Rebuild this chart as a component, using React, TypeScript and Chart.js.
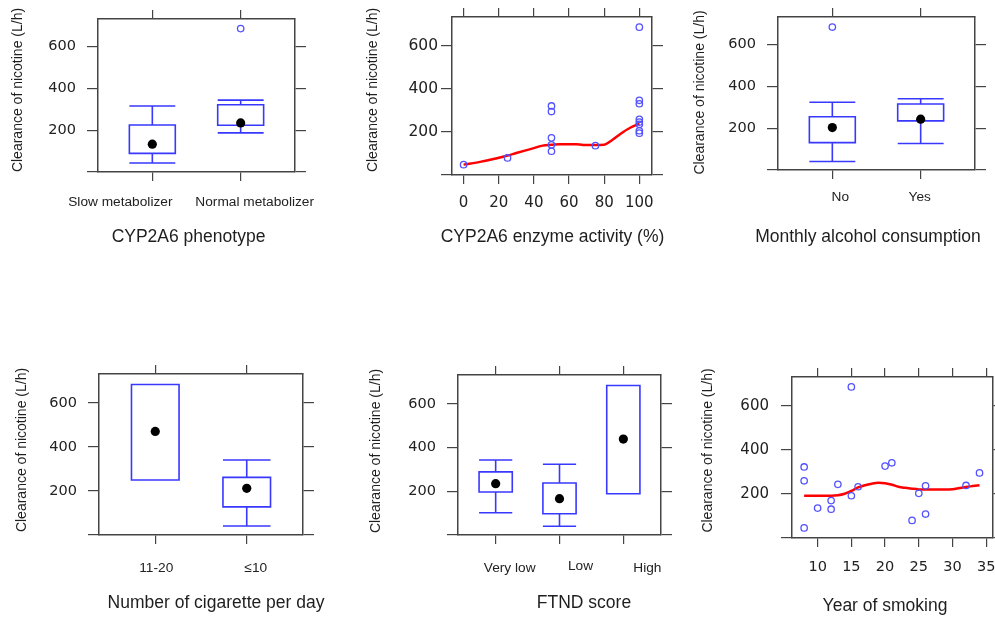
import React, { useEffect, useRef } from 'react';
import { Chart, registerables } from 'chart.js';

Chart.register(...registerables);

// ---------- shared axis values ----------
const yTicks = [0, 200, 400, 600];
const yMin = 0;
const yMax = 732;
const yTitleText = 'Clearance of nicotine (L/h)';

// ---------- Panel 1: CYP2A6 phenotype ----------
const phenoCats = ['Slow metabolizer', 'Normal metabolizer'];
const phenoLow = [43, 187];
const phenoQ1 = [89, 224];
const phenoMed = [133, 235];
const phenoQ3 = [225, 322];
const phenoHigh = [316, 344];
const phenoOutX = [2];
const phenoOutY = [686];

// ---------- Panel 2: CYP2A6 enzyme activity ----------
const actX = [0, 25, 50, 50, 50, 50, 50, 75, 100, 100, 100, 100, 100, 100, 100, 100];
const actY = [48, 79, 320, 294, 172, 140, 110, 136, 685, 346, 330, 258, 245, 235, 205, 194];
const actSmoothX = [0, 10, 19, 25, 30, 38, 45, 50, 55, 64, 68, 74, 80, 84, 89, 95, 100];
const actSmoothY = [48, 62, 78, 90, 102, 120, 136, 140, 143, 143, 139, 139, 140, 159, 189, 220, 238];
const actTicks = [0, 20, 40, 60, 80, 100];

// ---------- Panel 3: Monthly alcohol consumption ----------
const alcCats = ['No', 'Yes'];
const alcLow = [41, 127];
const alcQ1 = [131, 235];
const alcMed = [203, 243];
const alcQ3 = [255, 316];
const alcHigh = [324, 341];
const alcOutX = [1];
const alcOutY = [684];

// ---------- Panel 4: Number of cigarette per day ----------
const cigCats = ['11-20', '≤10'];
const cigLow = [250, 41];
const cigQ1 = [250, 128];
const cigMed = [471, 212];
const cigQ3 = [684, 262];
const cigHigh = [684, 341];

// ---------- Panel 5: FTND score ----------
const ftndCats = ['Very low', 'Low', 'High'];
const ftndLow = [102, 40, 189];
const ftndQ1 = [197, 97, 189];
const ftndMed = [235, 166, 439];
const ftndQ3 = [289, 238, 684];
const ftndHigh = [343, 324, 684];

// ---------- Panel 6: Year of smoking ----------
const yearX = [8, 8, 8, 10, 12, 12, 13, 15, 15, 16, 20, 21, 24, 25, 26, 26, 32, 34];
const yearY = [323, 260, 46, 136, 170, 131, 244, 687, 192, 233, 327, 342, 80, 203, 237, 109, 239, 296];
const yearSmoothX = [8, 10, 12, 13, 14, 15, 16, 17, 18, 19, 20, 21, 22, 23, 24, 25, 27, 29, 30, 31, 32, 33, 34];
const yearSmoothY = [192, 192, 192, 194, 201, 214, 230, 240, 247, 251, 249, 242, 233, 228, 224, 221, 220, 220, 222, 227, 232, 236, 240];
const yearTicks = [10, 15, 20, 25, 30, 35];

// ---------- styles ----------
const AXIS = '#444444';
const BOX = '#3838ff';
const PT = '#5252ff';
const RED = '#ff0000';
const TICKTXT = '#222222';
const TITLETXT = '#1e1e1e';
const SANS = '"Liberation Sans", Arial, sans-serif';
const NUMF = '"DejaVu Sans", Verdana, sans-serif';

const ML = 95;
const MT = 40;
const MR = 30;
const MB = 90;

type Box = { pos: number; lo: number; q1: number; med: number; q3: number; hi: number };

function makeBoxes(low: number[], q1: number[], q3: number[], hi: number[], med: number[]): Box[] {
  return low.map((_, i) => ({ pos: i + 1, lo: low[i], q1: q1[i], med: med[i], q3: q3[i], hi: hi[i] }));
}

function pts(xs: number[], ys: number[]) {
  return xs.map((x, i) => ({ x, y: ys[i] }));
}

const openPts = (data: any[]) => ({
  data,
  pointStyle: 'circle',
  pointRadius: 3.2,
  pointHoverRadius: 3.2,
  pointBorderWidth: 1.3,
  pointBorderColor: PT,
  pointBackgroundColor: 'rgba(0,0,0,0)',
  showLine: false,
});

const medDots = (ys: number[]) => ({
  data: ys.map((y, i) => ({ x: i + 1, y })),
  pointStyle: 'circle',
  pointRadius: 4.6,
  pointHoverRadius: 4.6,
  pointBorderWidth: 0,
  pointBorderColor: '#000',
  pointBackgroundColor: '#000',
  showLine: false,
});

const smoothLine = (xs: number[], ys: number[]) => ({
  data: pts(xs, ys),
  showLine: true,
  borderColor: RED,
  borderWidth: 2.5,
  pointRadius: 0,
  pointHoverRadius: 0,
  cubicInterpolationMode: 'monotone',
  fill: false,
});

type PanelCfg = {
  frame: [number, number, number, number];
  xMin: number;
  xMax: number;
  xTicks: number[];
  cats?: string[];
  catDx?: number[];
  catDy?: number[];
  xFontSize: number;
  xPad: number;
  yFontSize: number;
  yPad: number;
  datasets: any[];
  boxes?: Box[];
  xTitle: string;
  xDx: number;
  xDy: number;
  yDx: number;
  yDy: number;
};

const panels: PanelCfg[] = [
  {
    frame: [98, 19, 295, 172],
    xMin: 0.385, xMax: 2.615, xTicks: [1, 2],
    cats: phenoCats, catDx: [-32, 14], catDy: [30, 30],
    xFontSize: 14, xPad: 10,
    yFontSize: 14.5, yPad: 11,
    datasets: [medDots(phenoMed), openPts(pts(phenoOutX, phenoOutY))],
    boxes: makeBoxes(phenoLow, phenoQ1, phenoQ3, phenoHigh, phenoMed),
    xTitle: 'CYP2A6 phenotype', xDx: -8, xDy: 65, yDx: 79.5, yDy: -5.5,
  },
  {
    frame: [452, 17, 652, 175],
    xMin: -6.6, xMax: 107.2, xTicks: actTicks,
    xFontSize: 15, xPad: 10.5,
    yFontSize: 15.5, yPad: 3,
    datasets: [openPts(pts(actX, actY)), smoothLine(actSmoothX, actSmoothY)],
    xTitle: 'CYP2A6 enzyme activity (%)', xDx: 0.5, xDy: 62, yDx: 78.5, yDy: -6,
  },
  {
    frame: [778, 17, 975, 170],
    xMin: 0.385, xMax: 2.615, xTicks: [1, 2],
    cats: alcCats, catDx: [8, -1], catDy: [27, 27],
    xFontSize: 14, xPad: 10,
    yFontSize: 14.5, yPad: 11,
    datasets: [medDots(alcMed), openPts(pts(alcOutX, alcOutY))],
    boxes: makeBoxes(alcLow, alcQ1, alcQ3, alcHigh, alcMed),
    xTitle: 'Monthly alcohol consumption', xDx: -8.5, xDy: 67, yDx: 77.5, yDy: -1,
  },
  {
    frame: [99, 374, 303, 535],
    xMin: 0.385, xMax: 2.615, xTicks: [1, 2],
    cats: cigCats, catDx: [1, 9], catDy: [33, 33],
    xFontSize: 14, xPad: 10,
    yFontSize: 14.5, yPad: 11,
    datasets: [medDots(cigMed)],
    boxes: makeBoxes(cigLow, cigQ1, cigQ3, cigHigh, cigMed),
    xTitle: 'Number of cigarette per day', xDx: 15, xDy: 68, yDx: 76.5, yDy: -4.5,
  },
  {
    frame: [458, 375, 661, 535],
    xMin: 0.41, xMax: 3.59, xTicks: [1, 2, 3],
    cats: ftndCats, catDx: [14, 21, 24], catDy: [33, 31.5, 33],
    xFontSize: 14, xPad: 10,
    yFontSize: 14.5, yPad: 11,
    datasets: [medDots(ftndMed)],
    boxes: makeBoxes(ftndLow, ftndQ1, ftndQ3, ftndHigh, ftndMed),
    xTitle: 'FTND score', xDx: 24.5, xDy: 68, yDx: 81.5, yDy: -4,
  },
  {
    frame: [792, 377, 993, 538],
    xMin: 6.2, xMax: 36, xTicks: yearTicks,
    xFontSize: 14.5, xPad: 11.5,
    yFontSize: 15, yPad: 12,
    datasets: [openPts(pts(yearX, yearY)), smoothLine(yearSmoothX, yearSmoothY)],
    xTitle: 'Year of smoking', xDx: -7.5, xDy: 68.5, yDx: 83.5, yDy: -7,
  },
];

function makeBoxPlugin(boxes: Box[] | undefined) {
  return {
    id: 'bwBoxes',
    beforeDatasetsDraw(chart: any) {
      if (!boxes) return;
      const { ctx } = chart;
      const xs = chart.scales.x;
      const ys = chart.scales.y;
      const half = 0.26;
      ctx.save();
      ctx.strokeStyle = BOX;
      ctx.lineWidth = 1.6;
      boxes.forEach((b) => {
        const cx = xs.getPixelForValue(b.pos);
        const x0 = xs.getPixelForValue(b.pos - half);
        const x1 = xs.getPixelForValue(b.pos + half);
        const py = (v: number) => ys.getPixelForValue(v);
        ctx.beginPath();
        ctx.rect(x0, py(b.q3), x1 - x0, py(b.q1) - py(b.q3));
        ctx.moveTo(cx, py(b.q3));
        ctx.lineTo(cx, py(b.hi));
        ctx.moveTo(x0, py(b.hi));
        ctx.lineTo(x1, py(b.hi));
        ctx.moveTo(cx, py(b.q1));
        ctx.lineTo(cx, py(b.lo));
        ctx.moveTo(x0, py(b.lo));
        ctx.lineTo(x1, py(b.lo));
        ctx.stroke();
      });
      ctx.restore();
    },
  };
}

function makeTextPlugin(cfg: PanelCfg) {
  return {
    id: 'panelTexts',
    afterDraw(chart: any) {
      const { ctx, chartArea: ca } = chart;
      const xs = chart.scales.x;
      ctx.save();
      ctx.textAlign = 'center';
      ctx.textBaseline = 'middle';
      // category labels under the ticks
      if (cfg.cats) {
        ctx.fillStyle = TICKTXT;
        ctx.font = `13.7px ${SANS}`;
        cfg.xTicks.forEach((v, i) => {
          const label = cfg.cats![i];
          const dx = cfg.catDx ? cfg.catDx[i] : 0;
          const dy = cfg.catDy ? cfg.catDy[i] : 30;
          ctx.fillText(label, xs.getPixelForValue(v) + dx, ca.bottom + dy);
        });
      }
      ctx.fillStyle = TITLETXT;
      ctx.font = `17.5px ${SANS}`;
      ctx.fillText(cfg.xTitle, (ca.left + ca.right) / 2 + cfg.xDx, ca.bottom + cfg.xDy);
      ctx.translate(ca.left - cfg.yDx, (ca.top + ca.bottom) / 2 + cfg.yDy);
      ctx.rotate(-Math.PI / 2);
      ctx.font = `14px ${SANS}`;
      ctx.fillText(yTitleText, 0, 0);
      ctx.restore();
    },
  };
}

function buildConfig(cfg: PanelCfg): any {
  const grid = (len: number) => ({
    drawOnChartArea: false,
    drawTicks: true,
    tickLength: len,
    tickColor: AXIS,
    tickWidth: 1.2,
    color: AXIS,
    lineWidth: 1.2,
  });
  const border = { display: true, color: AXIS, width: 1.5 };
  const setX = (s: any) => {
    s.ticks = cfg.xTicks.map((v) => ({ value: v }));
  };
  const setY = (s: any) => {
    s.ticks = yTicks.map((v) => ({ value: v }));
  };
  const numericX = !cfg.cats;
  return {
    type: 'scatter',
    data: { datasets: cfg.datasets },
    options: {
      responsive: false,
      maintainAspectRatio: false,
      animation: false,
      devicePixelRatio: 1,
      events: [],
      layout: { padding: 0 },
      plugins: {
        legend: { display: false },
        tooltip: { enabled: false },
        title: { display: false },
      },
      scales: {
        x: {
          type: 'linear',
          position: 'bottom',
          min: cfg.xMin,
          max: cfg.xMax,
          afterBuildTicks: setX,
          afterFit: (s: any) => {
            s.height = MB;
          },
          ticks: {
            display: numericX,
            callback: (v: any) => String(v),
            font: { family: NUMF, size: cfg.xFontSize },
            color: TICKTXT,
            padding: cfg.xPad,
            autoSkip: false,
            maxRotation: 0,
            minRotation: 0,
          },
          grid: grid(9),
          border,
          title: { display: false },
        },
        x2: {
          type: 'linear',
          position: 'top',
          min: cfg.xMin,
          max: cfg.xMax,
          afterBuildTicks: setX,
          afterFit: (s: any) => {
            s.height = MT;
          },
          ticks: { display: false },
          grid: grid(9),
          border,
        },
        y: {
          type: 'linear',
          position: 'left',
          min: yMin,
          max: yMax,
          afterBuildTicks: setY,
          afterFit: (s: any) => {
            s.width = ML;
          },
          ticks: {
            callback: (v: any) => (Number(v) === 0 ? '' : String(v)),
            font: { family: NUMF, size: cfg.yFontSize },
            color: TICKTXT,
            padding: cfg.yPad,
            autoSkip: false,
          },
          grid: grid(11),
          border,
          title: { display: false },
        },
        y2: {
          type: 'linear',
          position: 'right',
          min: yMin,
          max: yMax,
          afterBuildTicks: setY,
          afterFit: (s: any) => {
            s.width = MR;
          },
          ticks: { display: false },
          grid: grid(11),
          border,
        },
      },
    },
    plugins: [makeBoxPlugin(cfg.boxes), makeTextPlugin(cfg)],
  };
}

function Panel({ cfg }: { cfg: PanelCfg }) {
  const ref = useRef<HTMLCanvasElement | null>(null);
  const [l, t, r, b] = cfg.frame;
  const w = r - l + ML + MR;
  const h = b - t + MT + MB;
  useEffect(() => {
    if (!ref.current) return;
    const chart = new Chart(ref.current, buildConfig(cfg));
    return () => chart.destroy();
  }, [cfg]);
  return (
    <canvas
      ref={ref}
      width={w}
      height={h}
      style={{ position: 'absolute', left: l - ML, top: t - MT, width: w, height: h }}
    />
  );
}

export default function App() {
  return (
    <div
      style={{
        position: 'fixed',
        left: 0,
        top: 0,
        width: 995,
        height: 622,
        overflow: 'hidden',
        background: '#ffffff',
      }}
    >
      {panels.map((p, i) => (
        <Panel key={i} cfg={p} />
      ))}
    </div>
  );
}
